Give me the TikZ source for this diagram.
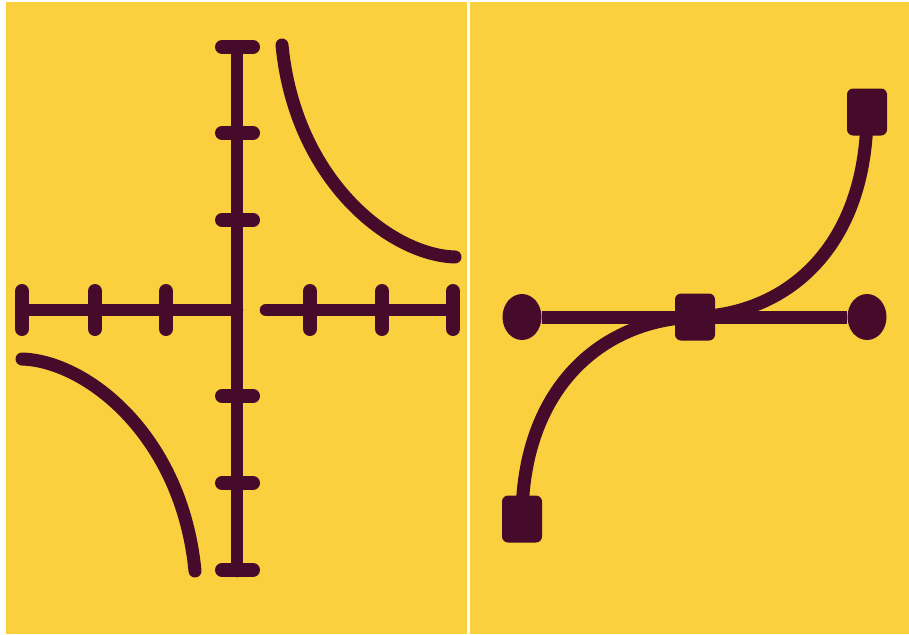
\documentclass[tikz,border=0pt]{standalone}
\usetikzlibrary{shapes.geometric}
\pgfdeclarelayer{paper}
\pgfdeclarelayer{wires}
\pgfsetlayers{paper,wires,main}
\begin{document}
\begin{tikzpicture}[x=1pt,y=-1pt,
  axisline/.style={draw=ink,line width=12.5pt,line cap=round},
  tickmark/.style={draw=ink,line width=14pt,line cap=round},
  curveline/.style={draw=ink,line width=13pt,line cap=round},
  handle/.style={ellipse,fill=ink,minimum width=39pt,minimum height=46pt,inner sep=0pt},
  anchorbox/.style={rectangle,rounded corners=6pt,fill=ink,minimum width=40pt,minimum height=47pt,inner sep=0pt}]
\definecolor{ink}{HTML}{460B2B}
\definecolor{sun}{HTML}{FAD03F}
\useasboundingbox (0,0) rectangle (909,634);
\begin{pgfonlayer}{paper}
\fill[white] (0,0) rectangle (909,634);
\fill[sun] (6,2) rectangle (467,634);
\fill[sun] (470,2) rectangle (909,634);
\end{pgfonlayer}
% ---- left panel: axes ----
\draw[axisline] (237,47) -- (237,571);
\draw[axisline] (22,310) -- (237,310);
\draw[axisline] (266,310) -- (453,310);
\foreach \y in {47,133,220,396,483,570}
  \draw[tickmark] (222,\y) -- (253,\y);
\foreach \x in {22,95,166,310,382,453}
  \draw[tickmark] (\x,291) -- (\x,329);
% hyperbola branches
\draw[curveline] (282,45) .. controls (295,180) and (390,255) .. (455,257);
\draw[curveline] (195,571) .. controls (182,436) and (87,361) .. (22,359);
% ---- right panel ----
\node[handle] (hl) at (522,317) {};
\node[handle] (hr) at (867,317) {};
\node[anchorbox] (mb) at (695,317) {};
\node[anchorbox] (bl) at (522,519) {};
\node[anchorbox] (tr) at (867,112) {};
\begin{pgfonlayer}{wires}
\draw[curveline] (bl.center) .. controls (522,390) and (600,320) .. (mb.center)
  .. controls (790,314) and (867,244) .. (tr.center);
\draw[draw=ink,line width=13pt] (hl) -- (hr);
\end{pgfonlayer}
\end{tikzpicture}
\end{document}
